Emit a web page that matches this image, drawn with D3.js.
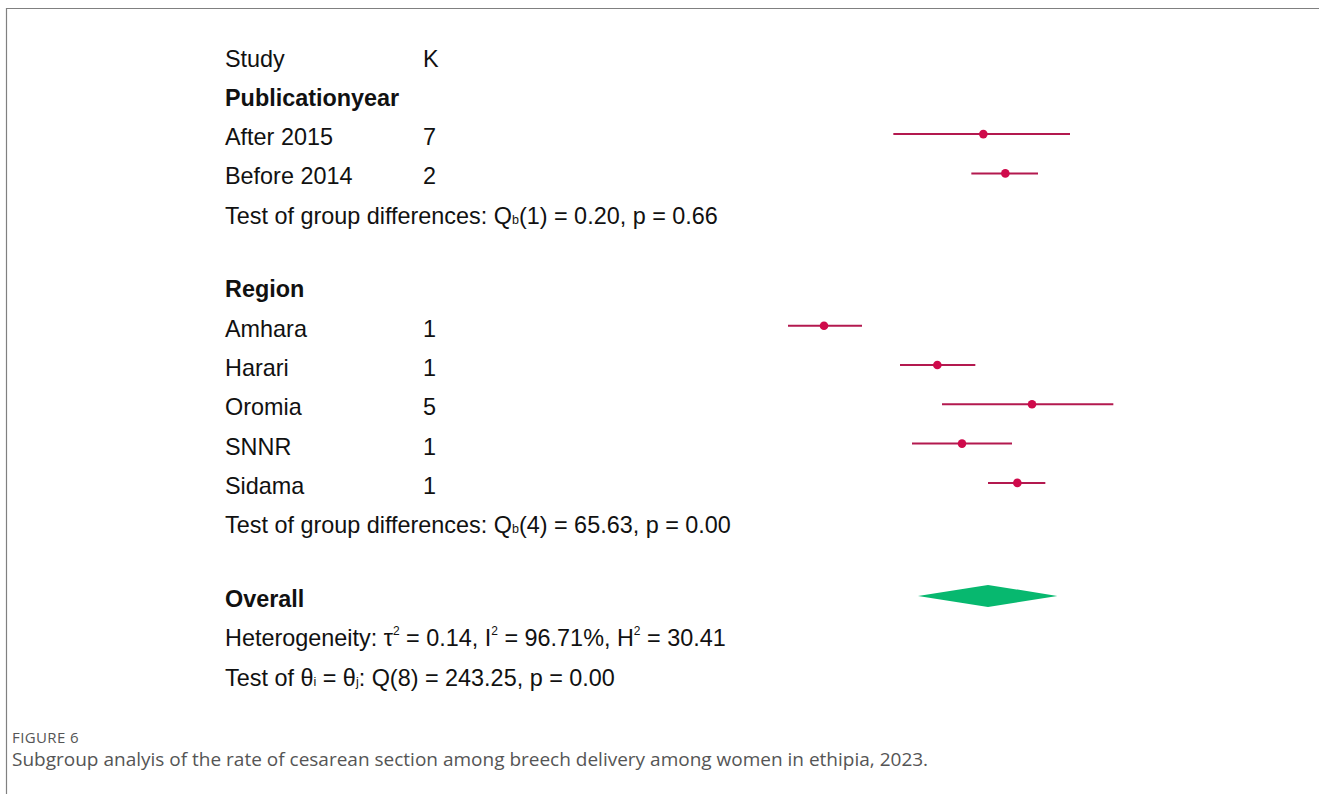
<!DOCTYPE html>
<html>
<head>
<meta charset="utf-8">
<script src="https://cdn.jsdelivr.net/npm/d3@7"></script>
<style>
  html, body { margin: 0; padding: 0; background: #fff; }
  svg { display: block; }
</style>
</head>
<body>
<svg id="chart" width="1319" height="794"></svg>
<script>
// Subgroup forest plot: cesarean section rate (%) among breech deliveries
const subgroups      = ["After 2015", "Before 2014", "Amhara", "Harari", "Oromia", "SNNR", "Sidama"];
const subgroupGroup  = ["Publicationyear", "Publicationyear", "Region", "Region", "Region", "Region", "Region"];
const studyCounts    = [7, 2, 1, 1, 5, 1, 1];
const estimates      = [75.0, 78.3, 51.1, 68.1, 82.3, 71.8, 80.1];
const ciLower        = [61.5, 73.2, 45.7, 62.5, 68.8, 64.3, 75.7];
const ciUpper        = [88.0, 83.2, 56.8, 73.8, 94.5, 79.3, 84.3];

const groupNames     = ["Publicationyear", "Region"];
const groupTestDf    = [1, 4];
const groupTestQ     = ["0.20", "65.63"];
const groupTestP     = ["0.66", "0.00"];

const overallEstimate = 75.7;
const overallLower    = 65.2;
const overallUpper    = 86.1;
const heterogeneity   = { tau2: "0.14", i2: "96.71%", h2: "30.41" };
const homogeneityTest = { df: 8, q: "243.25", p: "0.00" };

const captionLabel = "FIGURE 6";
const captionText  = "Subgroup analyis of the rate of cesarean section among breech delivery among women in ethipia, 2023.";

const svg = d3.select("#chart");
const FONT = "'Liberation Sans', Arial, sans-serif";
const TEXT_COLOR = "#111";
const CI_COLOR = "#b3194f";
const DOT_COLOR = "#cf0a4b";
const DIAMOND_COLOR = "#07b86f";

// Frame lines
svg.append("line").attr("x1", 6).attr("x2", 1319).attr("y1", 8.5).attr("y2", 8.5)
  .attr("stroke", "#808080").attr("stroke-width", 1.2);
svg.append("line").attr("x1", 6.5).attr("x2", 6.5).attr("y1", 8).attr("y2", 794)
  .attr("stroke", "#808080").attr("stroke-width", 1.2);

// Row layout: each entry gets a row index; a blank spacer separates sections
const GAP = 0.875;
const rows = [];
let r = 0;
rows.push({ type: "header", row: r++ });
groupNames.forEach((g, gi) => {
  rows.push({ type: "group", label: g, row: r++ });
  subgroups.forEach((s, i) => {
    if (subgroupGroup[i] === g) rows.push({ type: "sub", idx: i, row: r++ });
  });
  rows.push({ type: "test", gi: gi, row: r++ });
  r += GAP;
});
rows.push({ type: "overall", row: r++ });
rows.push({ type: "het", row: r++ });
rows.push({ type: "homog", row: r++ });

const y = d3.scaleLinear().domain([0, 15.75]).range([66.5, 685.5]);
const x = d3.scaleLinear().domain([40, 100]).range([750, 1150]);
const markOffset = -11;

const labelX = 225, kX = 423;
const txt = svg.append("g").attr("font-family", FONT).attr("font-size", 23.4).attr("fill", TEXT_COLOR);

function sup(t, s, dx) {
  t.append("tspan").attr("font-size", 12).attr("dy", -11).attr("dx", dx).text(s);
}

rows.forEach(d => {
  const yy = y(d.row);
  if (d.type === "header") {
    txt.append("text").attr("x", labelX).attr("y", yy).text("Study");
    txt.append("text").attr("x", kX).attr("y", yy).text("K");
  } else if (d.type === "group" || d.type === "overall") {
    txt.append("text").attr("x", labelX).attr("y", yy).attr("font-weight", "bold")
      .text(d.type === "group" ? d.label : "Overall");
  } else if (d.type === "sub") {
    txt.append("text").attr("x", labelX).attr("y", yy).text(subgroups[d.idx]);
    txt.append("text").attr("x", kX).attr("y", yy).text(studyCounts[d.idx]);
  } else if (d.type === "test") {
    const t = txt.append("text").attr("x", labelX).attr("y", yy);
    t.append("tspan").text("Test of group differences: Q");
    t.append("tspan").attr("font-size", 12.5).text("b");
    t.append("tspan").text(`(${groupTestDf[d.gi]}) = ${groupTestQ[d.gi]}, p = ${groupTestP[d.gi]}`);
  } else if (d.type === "het") {
    const t = txt.append("text").attr("x", labelX).attr("y", yy);
    t.append("tspan").text("Heterogeneity: τ");
    sup(t, "2", 0);
    t.append("tspan").attr("dy", 11).text(` = ${heterogeneity.tau2}, I`);
    sup(t, "2", 0);
    t.append("tspan").attr("dy", 11).text(` = ${heterogeneity.i2}, H`);
    sup(t, "2", 0);
    t.append("tspan").attr("dy", 11).text(` = ${heterogeneity.h2}`);
  } else if (d.type === "homog") {
    const t = txt.append("text").attr("x", labelX).attr("y", yy);
    t.append("tspan").text("Test of θ");
    t.append("tspan").attr("font-size", 12.5).text("i");
    t.append("tspan").text(" = θ");
    t.append("tspan").attr("font-size", 12.5).text("j");
    t.append("tspan").text(`: Q(${homogeneityTest.df}) = ${homogeneityTest.q}, p = ${homogeneityTest.p}`);
  }
});

// Confidence intervals and point estimates
const marks = svg.append("g");
const subRows = rows.filter(d => d.type === "sub");
marks.selectAll("line.ci").data(subRows).join("line")
  .attr("class", "ci")
  .attr("x1", d => x(ciLower[d.idx])).attr("x2", d => x(ciUpper[d.idx]))
  .attr("y1", d => y(d.row) + markOffset).attr("y2", d => y(d.row) + markOffset)
  .attr("stroke", CI_COLOR).attr("stroke-width", 2);
marks.selectAll("circle.est").data(subRows).join("circle")
  .attr("class", "est")
  .attr("cx", d => x(estimates[d.idx])).attr("cy", d => y(d.row) + markOffset)
  .attr("r", 4.3).attr("fill", DOT_COLOR);

// Overall diamond
const ov = rows.find(d => d.type === "overall");
const oy = y(ov.row) + markOffset;
marks.append("path")
  .attr("d", `M${x(overallLower)},${oy} L${x(overallEstimate)},${oy - 11} L${x(overallUpper)},${oy} L${x(overallEstimate)},${oy + 11} Z`)
  .attr("fill", DIAMOND_COLOR);

// Caption
svg.append("text").attr("x", 12).attr("y", 743).attr("font-family", "'Open Sans', sans-serif")
  .attr("font-size", 15).attr("letter-spacing", 0.4).attr("fill", "#555").text(captionLabel);
svg.append("text").attr("x", 12).attr("y", 766).attr("font-family", "'Open Sans', sans-serif")
  .attr("font-size", 19).attr("fill", "#555").text(captionText);
</script>
</body>
</html>
